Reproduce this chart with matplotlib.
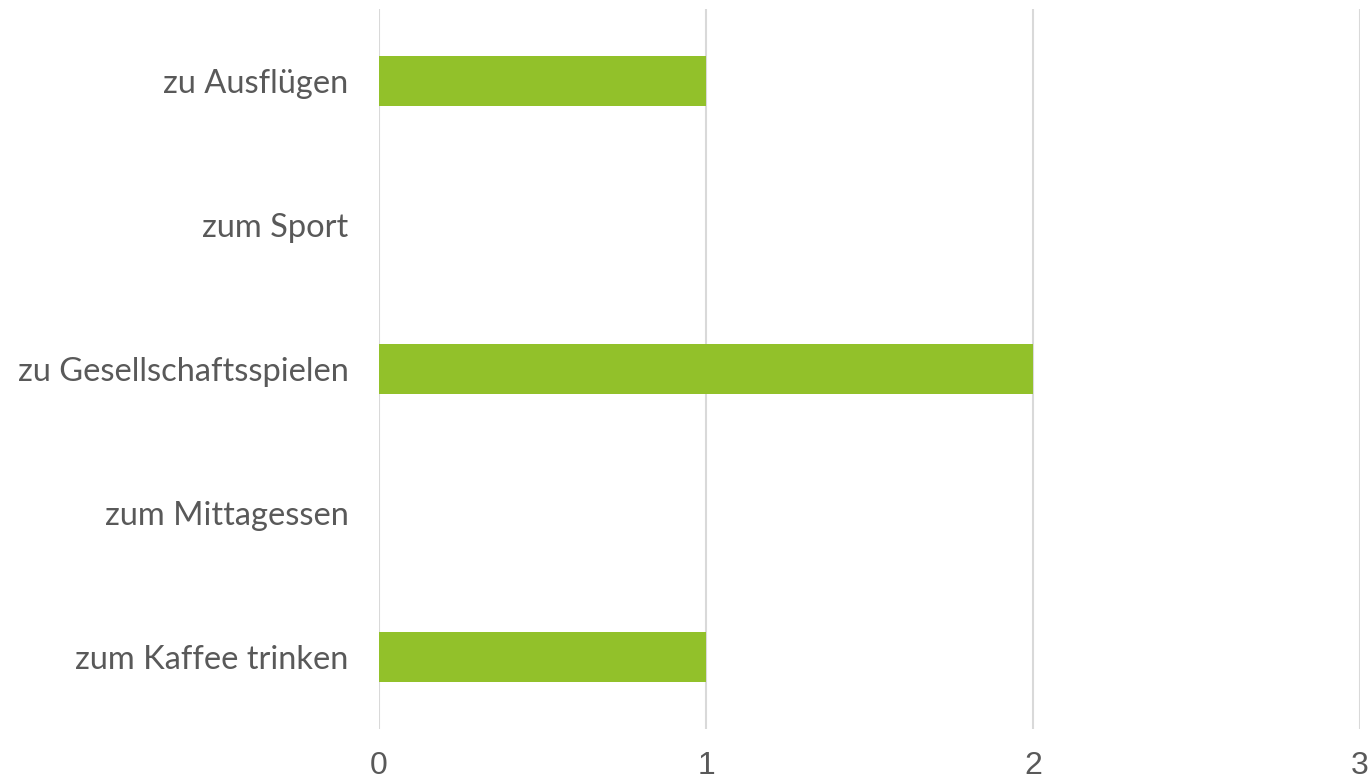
import matplotlib
matplotlib.use("Agg")
import matplotlib.pyplot as plt

categories = ["zum Kaffee trinken", "zum Mittagessen", "zu Gesellschaftsspielen", "zum Sport", "zu Ausflügen"]
values = [1, 0, 2, 0, 1]
xticks = [0, 1, 2, 3]

fig = plt.figure(figsize=(13.68, 7.83), dpi=100)
ax = fig.add_axes([379/1368, 1-729/783, (1360-379)/1368, 720/783])
ax.barh(range(len(categories)), values, height=0.347, color="#92c12a", zorder=3)
ax.set_xlim(0, 3)
ax.set_ylim(-0.5, len(categories)-0.5)
ax.set_xticks(xticks)
ax.set_xticklabels([str(t) for t in xticks], fontsize=23, color="#595959", family="Liberation Sans")
ax.set_yticks(range(len(categories)))
ax.set_yticklabels(categories, fontsize=23.5, color="#595959", family="Lato")
ax.tick_params(axis="x", length=0, pad=16)
ax.tick_params(axis="y", length=0, pad=22)
ax.grid(axis="x", color="#d9d9d9", linewidth=1.5, zorder=0)
for s in ax.spines.values():
    s.set_visible(False)
fig.savefig("out.png", dpi=100)
